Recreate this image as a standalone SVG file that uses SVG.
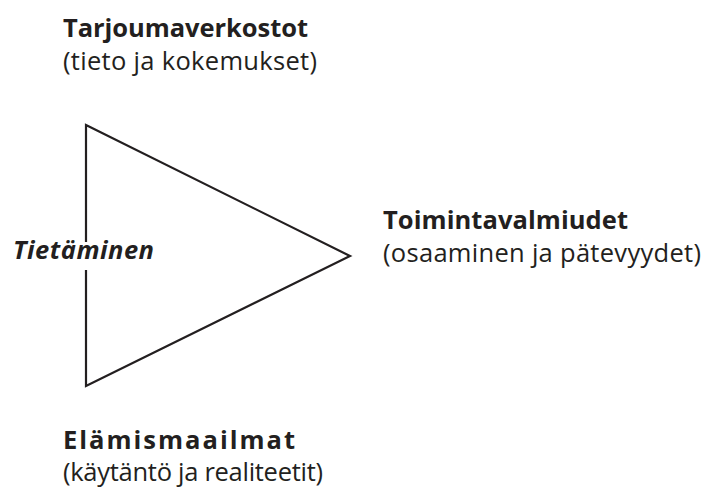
<svg xmlns="http://www.w3.org/2000/svg" width="706" height="489" viewBox="0 0 706 489">
<style>
text{font-family:"Open Sans","Noto Sans",sans-serif;fill:#231f20;font-size:25.5px}
.b{font-weight:bold}
.bi{font-weight:bold;font-style:italic}
</style>
<rect width="706" height="489" fill="#fff"/>
<g id="connectors">
<polygon points="86,125 350,256 86,386" fill="none" stroke="#231f20" stroke-width="2.2" stroke-linejoin="miter"/>
</g>
<g id="tarjouma">
<text x="63" y="37" class="b" textLength="245" lengthAdjust="spacing">Tarjoumaverkostot</text>
<text x="63" y="70" textLength="254" lengthAdjust="spacing">(tieto ja kokemukset)</text>
</g>
<g id="tietaminen">
<rect x="82" y="242" width="8" height="28" fill="#fff"/>
<text x="13" y="259" class="bi" textLength="141" lengthAdjust="spacing">Tietäminen</text>
</g>
<g id="toiminta">
<text x="383" y="229" class="b" textLength="245" lengthAdjust="spacing">Toimintavalmiudet</text>
<text x="383" y="262" textLength="318" lengthAdjust="spacing">(osaaminen ja pätevyydet)</text>
</g>
<g id="elamis">
<text x="63" y="449" class="b" textLength="232" lengthAdjust="spacing">Elämismaailmat</text>
<text x="63" y="481" textLength="260" lengthAdjust="spacing">(käytäntö ja realiteetit)</text>
</g>
</svg>
